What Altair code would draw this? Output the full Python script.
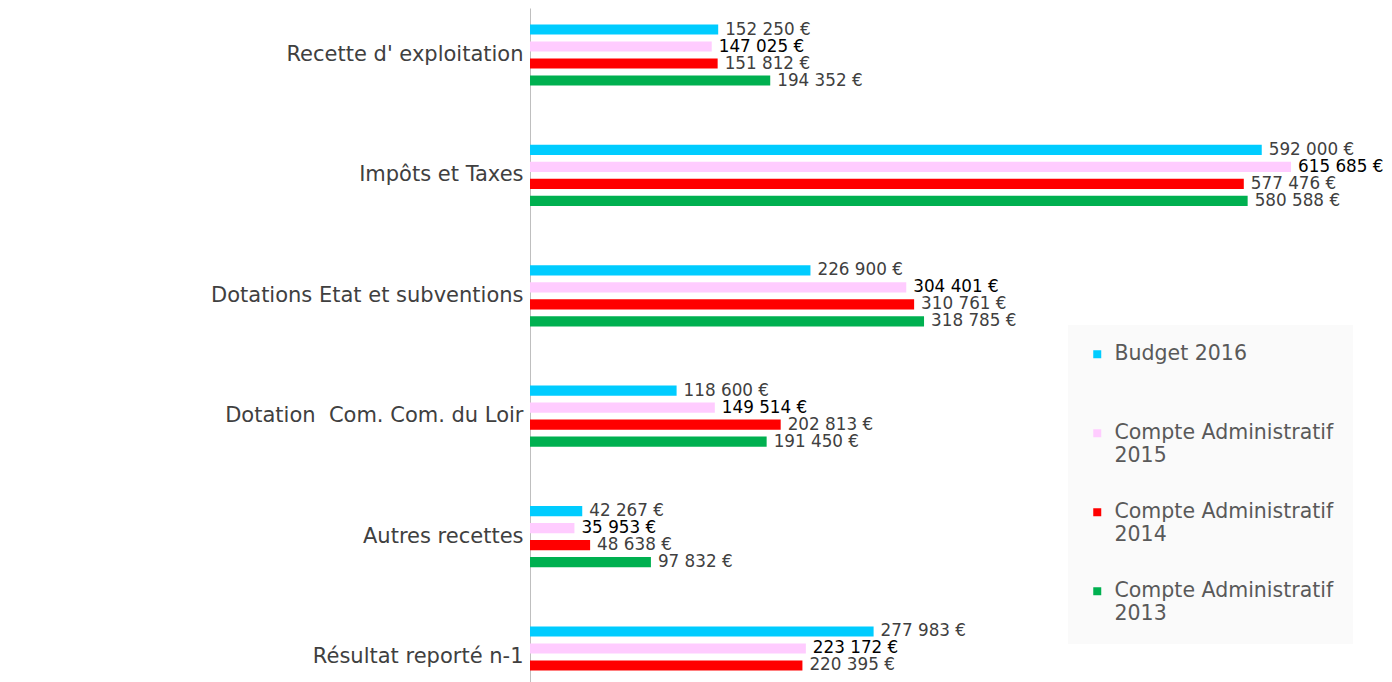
import altair as alt
import pandas as pd

categories = [
    "Recette d' exploitation",
    "Impôts et Taxes",
    "Dotations Etat et subventions",
    "Dotation\u00a0 Com. Com. du Loir",
    "Autres recettes",
    "Résultat reporté n-1",
]
series = [
    "Budget 2016",
    "Compte Administratif 2015",
    "Compte Administratif 2014",
    "Compte Administratif 2013",
]
budget_2016 = [152250, 592000, 226900, 118600, 42267, 277983]
ca_2015 = [147025, 615685, 304401, 149514, 35953, 223172]
ca_2014 = [151812, 577476, 310761, 202813, 48638, 220395]
ca_2013 = [194352, 580588, 318785, 191450, 97832, None]
colors = ["#00CCFF", "#FFCCFF", "#FF0000", "#00B050"]

rows = []
for s, vals in zip(series, [budget_2016, ca_2015, ca_2014, ca_2013]):
    for c, v in zip(categories, vals):
        if v is None:
            continue
        rows.append({"cat": c, "series": s, "value": v,
                     "label": f"{v:,}".replace(",", " ") + " €",
                     "bold": s == "Compte Administratif 2015"})
df = pd.DataFrame(rows)

y = alt.Y("cat:N", sort=categories,
          scale=alt.Scale(paddingInner=0.219, paddingOuter=0),
          axis=alt.Axis(title=None, domain=True, domainColor="#bfbfbf", ticks=False,
                        labelFont="DejaVu Sans",
                        labelFontSize=21, labelColor="#404040", labelPadding=7,
                        minExtent=522, maxExtent=522, labelLimit=520))
yoff = alt.YOffset("series:N", sort=series,
                   scale=alt.Scale(paddingInner=0.4, paddingOuter=0.965))
x = alt.X("value:Q", scale=alt.Scale(domain=[0, 690900], nice=False), axis=None)

legend = alt.Legend(
    title=None, orient="none", legendX=538, legendY=317,
    symbolType="square", symbolSize=64, symbolStrokeWidth=0,
    labelFont="DejaVu Sans", labelFontSize=20.5, labelColor="#595959",
    labelLimit=400, labelOffset=7, rowPadding=35, padding=19,
    fillColor="#fafafa",
    labelExpr="datum.label == 'Budget 2016' ? ['Budget 2016', ''] : [slice(datum.label, 0, 20), '\u00a0' + slice(datum.label, 21)]",
)

base = alt.Chart(df).encode(y=y, yOffset=yoff, x=x)

bars = base.mark_bar().encode(
    color=alt.Color("series:N", sort=series,
                    scale=alt.Scale(domain=series, range=colors), legend=legend),
)

texts = base.mark_text(
    align="left", baseline="middle", dx=7, font="DejaVu Sans", fontSize=16.8
).encode(
    text="label:N",
    color=alt.condition(alt.datum.bold, alt.value("#000000"), alt.value("#404040")),
)

chart = alt.layer(bars, texts).properties(
    width=854, height=696, padding=0, background="white"
).configure_view(stroke=None)

chart.save("out.html", embed_options={"renderer": "svg", "actions": False})
